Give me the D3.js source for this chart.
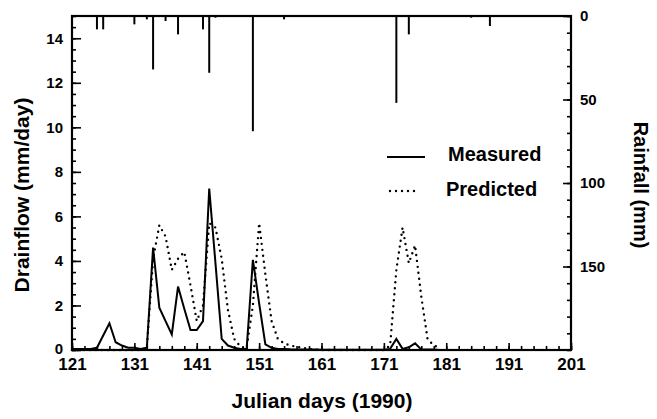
<!DOCTYPE html>
<html>
<head>
<meta charset="utf-8">
<script src="https://cdn.jsdelivr.net/npm/d3@7"></script>
<style>
  html, body { margin: 0; padding: 0; background: #fff; }
  svg { display: block; }
</style>
</head>
<body>
<div id="chart"></div>
<script>
// Drainflow (measured vs predicted) with rainfall hanging from the top axis

const DAYS = [121,122,123,124,125,126,127,128,129,130,
              131,132,133,134,135,136,137,138,139,140,
              141,142,143,144,145,146,147,148,149,150,
              151,152,153,154,155,156,157,158,159,160,
              161,162,163,164,165,166,167,168,169,170,
              171,172,173,174,175,176,177,178,179,180];

const MEASURED = [0.05,0.05,0.05,0.05,0.1,0.65,1.2,0.35,0.2,0.1,
                  0.1,0.05,0.1,4.6,1.9,1.3,0.7,2.85,1.85,0.9,
                  0.9,1.3,7.25,3.9,0.5,0.2,0.1,0.05,0.05,4.05,
                  2.1,0.25,0.1,0.05,0.05,0.03,0.02,0.02,0.02,0.02,
                  0.01,0.01,0.01,0.01,0.01,0.01,0.01,0.01,0.01,0.01,
                  0.01,0.05,0.5,0.05,0.12,0.3,0.02,0.02,0.02,0];

const PREDICTED = [0,0,0,0,0,0,0,0,0,0,
                   0,0,0.1,4.1,5.6,5.1,3.6,4.1,4.4,2.9,
                   1.3,2.0,5.7,5.5,4.1,1.8,0.5,0.15,0.1,2.0,
                   5.7,3.4,1.3,0.5,0.3,0.2,0.15,0.1,0.05,0.02,
                   0,0,0,0,0,0,0,0,0,0,
                   0,0.2,3.6,5.5,3.9,4.7,2.4,0.5,0.2,0.1];

// Rainfall events (mm) drawn downward from the top axis
const RAIN_DAYS = [125,126,131,133,134,136,138,142,143,144,150,155,173,175,185,188];
const RAIN_MM   = [8,  8,  5,  2,  32, 3,  11, 8,  34, 1,  69, 2,  52, 11, 1,  6];

const X_TICKS      = [121,131,141,151,161,171,181,191,201];
const Y_TICKS      = [0,2,4,6,8,10,12,14];
const RAIN_TICKS   = [0,50,100,150];

const W = 657, H = 419;
const FONT = "'Liberation Sans', Arial, Helvetica, sans-serif";

const x  = d3.scaleLinear().domain([121, 201]).range([72, 571]);
const y  = d3.scaleLinear().domain([0, 15]).range([350, 16]);
const yR = d3.scaleLinear().domain([0, 200]).range([16, 350]);

const svg = d3.select("#chart").append("svg")
  .attr("width", W).attr("height", H)
  .attr("viewBox", `0 0 ${W} ${H}`);

function styleAxis(g, size) {
  g.select(".domain").remove();
  g.selectAll(".tick line").attr("stroke", "#000").attr("stroke-width", 1.6);
  g.selectAll("text")
    .attr("fill", "#000")
    .attr("font-size", size + "px")
    .attr("font-weight", "bold")
    .attr("font-family", FONT);
}

// Minor ticks
svg.append("g").attr("transform", "translate(0,350)")
  .call(d3.axisBottom(x).tickValues(d3.range(121, 202, 2)).tickSize(-4).tickFormat(""))
  .call(g => styleAxis(g, 10));
svg.append("g").attr("transform", "translate(72,0)")
  .call(d3.axisLeft(y).tickValues(d3.range(0, 15.01, 0.5)).tickSize(-4).tickFormat(""))
  .call(g => styleAxis(g, 10));
svg.append("g").attr("transform", "translate(571,0)")
  .call(d3.axisRight(yR).tickValues(d3.range(0, 201, 10)).tickSize(-4).tickFormat(""))
  .call(g => styleAxis(g, 10));

// Major ticks + labels
svg.append("g").attr("transform", "translate(0,350)")
  .call(d3.axisBottom(x).tickValues(X_TICKS).tickSize(-7).tickPadding(8).tickFormat(d3.format("d")))
  .call(g => styleAxis(g, 17));
svg.append("g").attr("transform", "translate(72,0)")
  .call(d3.axisLeft(y).tickValues(Y_TICKS).tickSize(-9).tickPadding(9).tickFormat(d3.format("d")))
  .call(g => styleAxis(g, 15));
svg.append("g").attr("transform", "translate(571,0)")
  .call(d3.axisRight(yR).tickValues(RAIN_TICKS).tickSize(-8).tickPadding(9).tickFormat(d3.format("d")))
  .call(g => styleAxis(g, 15));

// nudge the "0" drainflow label up a touch so it clears the x labels
svg.selectAll("text").filter(function () {
  return this.textContent === "0" && +this.getAttribute("x") < 0;
}).attr("dy", "0.2em");

// Frame
svg.append("rect")
  .attr("x", x(121)).attr("y", y(15))
  .attr("width", x(201) - x(121)).attr("height", y(0) - y(15))
  .attr("fill", "none").attr("stroke", "#000").attr("stroke-width", 2.2);

// Rainfall bars
RAIN_DAYS.forEach((d, i) => {
  svg.append("line")
    .attr("x1", x(d)).attr("x2", x(d))
    .attr("y1", yR(0)).attr("y2", yR(RAIN_MM[i]))
    .attr("stroke", "#000").attr("stroke-width", 2);
});

const line = vals => d3.line()
  .x((d, i) => x(DAYS[i]))
  .y(d => y(d))(vals);

svg.append("path")
  .attr("d", line(PREDICTED))
  .attr("fill", "none").attr("stroke", "#000")
  .attr("stroke-width", 2.4)
  .attr("stroke-linecap", "round")
  .attr("stroke-dasharray", "0 6");

svg.append("path")
  .attr("d", line(MEASURED))
  .attr("fill", "none").attr("stroke", "#000")
  .attr("stroke-width", 2)
  .attr("stroke-linejoin", "miter");

// Legend
svg.append("line")
  .attr("x1", 387).attr("x2", 425).attr("y1", 157).attr("y2", 157)
  .attr("stroke", "#000").attr("stroke-width", 2.2);
svg.append("line")
  .attr("x1", 390).attr("x2", 420).attr("y1", 191).attr("y2", 191)
  .attr("stroke", "#000").attr("stroke-width", 2.4)
  .attr("stroke-linecap", "round").attr("stroke-dasharray", "0 6");

const legendText = (tx, ty, s) => svg.append("text")
  .attr("x", tx).attr("y", ty)
  .attr("font-family", FONT).attr("font-size", "20px").attr("font-weight", "bold")
  .attr("fill", "#000").text(s);
legendText(448, 161, "Measured");
legendText(446, 196, "Predicted");

// Axis titles
svg.append("text")
  .attr("x", 322).attr("y", 408)
  .attr("text-anchor", "middle")
  .attr("font-family", FONT).attr("font-size", "21px").attr("font-weight", "bold")
  .text("Julian days (1990)");

svg.append("text")
  .attr("transform", "translate(29,195) rotate(-90)")
  .attr("text-anchor", "middle")
  .attr("font-family", FONT).attr("font-size", "21px").attr("font-weight", "bold")
  .text("Drainflow (mm/day)");

svg.append("text")
  .attr("transform", "translate(634,185) rotate(90)")
  .attr("text-anchor", "middle")
  .attr("font-family", FONT).attr("font-size", "20px").attr("font-weight", "bold")
  .text("Rainfall (mm)");
</script>
</body>
</html>
